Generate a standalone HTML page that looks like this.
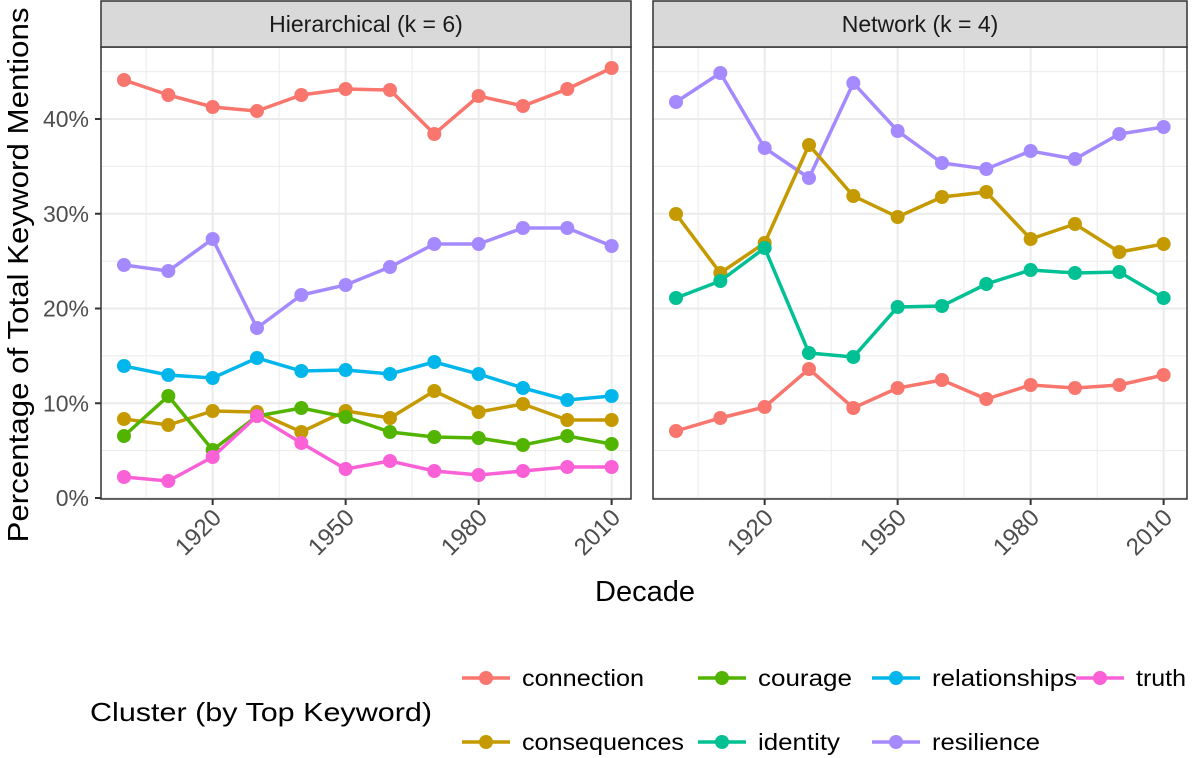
<!DOCTYPE html>
<html><head><meta charset="utf-8"><style>body{margin:0;background:#fff}svg{display:block}text{font-family:"Liberation Sans",sans-serif}</style></head><body>
<svg id="s" width="1200" height="758" xmlns="http://www.w3.org/2000/svg"></svg>
<script>
const s=document.getElementById('s');let h='';
const C={connection:'#F8766D',consequences:'#C49A00',courage:'#53B400',identity:'#00C094',relationships:'#00B6EB',resilience:'#A58AFF',truth:'#FB61D7'};
const T=47,B=499;
function yv(p){return 498-p*9.475;}
function panel(x0,x1,title,x1900,series){
  const dx=4.433;
  const X=y=>x1900+(y-1900)*dx;
  h+=`<rect x="${x0}" y="${T}" width="${x1-x0}" height="${B-T}" fill="#fff"/>`;
  for(let p=5;p<50;p+=10)h+=`<line x1="${x0}" x2="${x1}" y1="${yv(p)}" y2="${yv(p)}" stroke="#ebebeb" stroke-width="1"/>`;
  for(let y of [1905,1935,1965,1995])h+=`<line x1="${X(y)}" x2="${X(y)}" y1="${T}" y2="${B}" stroke="#ebebeb" stroke-width="1"/>`;
  for(let p=0;p<50;p+=10)h+=`<line x1="${x0}" x2="${x1}" y1="${yv(p)}" y2="${yv(p)}" stroke="#ebebeb" stroke-width="2"/>`;
  for(let y of [1920,1950,1980,2010]){h+=`<line x1="${X(y)}" x2="${X(y)}" y1="${T}" y2="${B}" stroke="#ebebeb" stroke-width="2"/>`;
    h+=`<line x1="${X(y)}" x2="${X(y)}" y1="${B}" y2="${B+6}" stroke="#333" stroke-width="2"/>`;
    h+=`<text transform="translate(${X(y)+10},${B+20}) rotate(-45)" text-anchor="end" font-size="24" fill="#4d4d4d">${y}</text>`;}
  for(const [k,v] of series){const pts=v.map((yy,i)=>[X(1900+i*10),yy]);
    h+=`<polyline points="${pts.map(p=>p.join(',')).join(' ')}" fill="none" stroke="${C[k]}" stroke-width="3.5"/>`;
    pts.forEach(p=>h+=`<circle cx="${p[0]}" cy="${p[1]}" r="7" fill="${C[k]}"/>`);}
  h+=`<rect x="${x0}" y="${T}" width="${x1-x0}" height="${B-T}" fill="none" stroke="#333" stroke-width="1.5"/>`;
  h+=`<rect x="${x0}" y="1" width="${x1-x0}" height="${T-1}" fill="#d9d9d9" stroke="#333" stroke-width="1.5"/>`;
  h+=`<text x="${(x0+x1)/2}" y="32" text-anchor="middle" font-size="23" fill="#1a1a1a">${title}</text>`;
}
panel(101,631,'Hierarchical (k = 6)',124,[
['connection',[80,95,107,111,95,89,90,134,96,106,89,68]],
['resilience',[265,271,239,328,295,285,267,244,244,228,228,246]],
['relationships',[366,375,378,358,371,370,374,362,374,388,400,396]],
['consequences',[419,425,411,412,432,411,418,391,412,404,420,420]],
['courage',[436,396,450,416,408,417,432,437,438,445,436,444]],
['truth',[477,481,457,416,443,469,461,471,475,471,467,467]]]);
panel(653,1187,'Network (k = 4)',676,[
['resilience',[102,73,148,178,83,131,163,169,151,159,134,127]],
['consequences',[214,273,243,145,196,217,197,192,239,224,252,244]],
['identity',[298,281,248,353,357,307,306,284,270,273,272,298]],
['connection',[431,418,407,369,408,388,380,399,385,388,385,375]]]);
for(let p=0;p<50;p+=10){h+=`<line x1="95" x2="101" y1="${yv(p)}" y2="${yv(p)}" stroke="#333" stroke-width="2"/>`;
 h+=`<text x="89" y="${yv(p)+8}" text-anchor="end" font-size="23" fill="#4d4d4d">${p}%</text>`;}
h+=`<text transform="translate(28,275) rotate(-90)" text-anchor="middle" font-size="29" fill="#000" textLength="535" lengthAdjust="spacingAndGlyphs">Percentage of Total Keyword Mentions</text>`;
h+=`<text x="645" y="601" text-anchor="middle" font-size="29" fill="#000">Decade</text>`;
h+=`<text x="90" y="721" font-size="26" fill="#000" textLength="342" lengthAdjust="spacingAndGlyphs">Cluster (by Top Keyword)</text>`;
const L=[['connection',462,678,122],['courage',698,678,94],['relationships',872,678,145],['truth',1076,678,50],['consequences',462,742,162],['identity',698,742,82],['resilience',872,742,108]];
for(const [k,x,y,w] of L){h+=`<line x1="${x}" x2="${x+48}" y1="${y}" y2="${y}" stroke="${C[k]}" stroke-width="3.5"/><circle cx="${x+24}" cy="${y}" r="7" fill="${C[k]}"/>`;
 h+=`<text x="${x+60}" y="${y+8}" font-size="23" fill="#000" textLength="${w}" lengthAdjust="spacingAndGlyphs">${k}</text>`;}
s.innerHTML=h;
</script>
</body></html>
